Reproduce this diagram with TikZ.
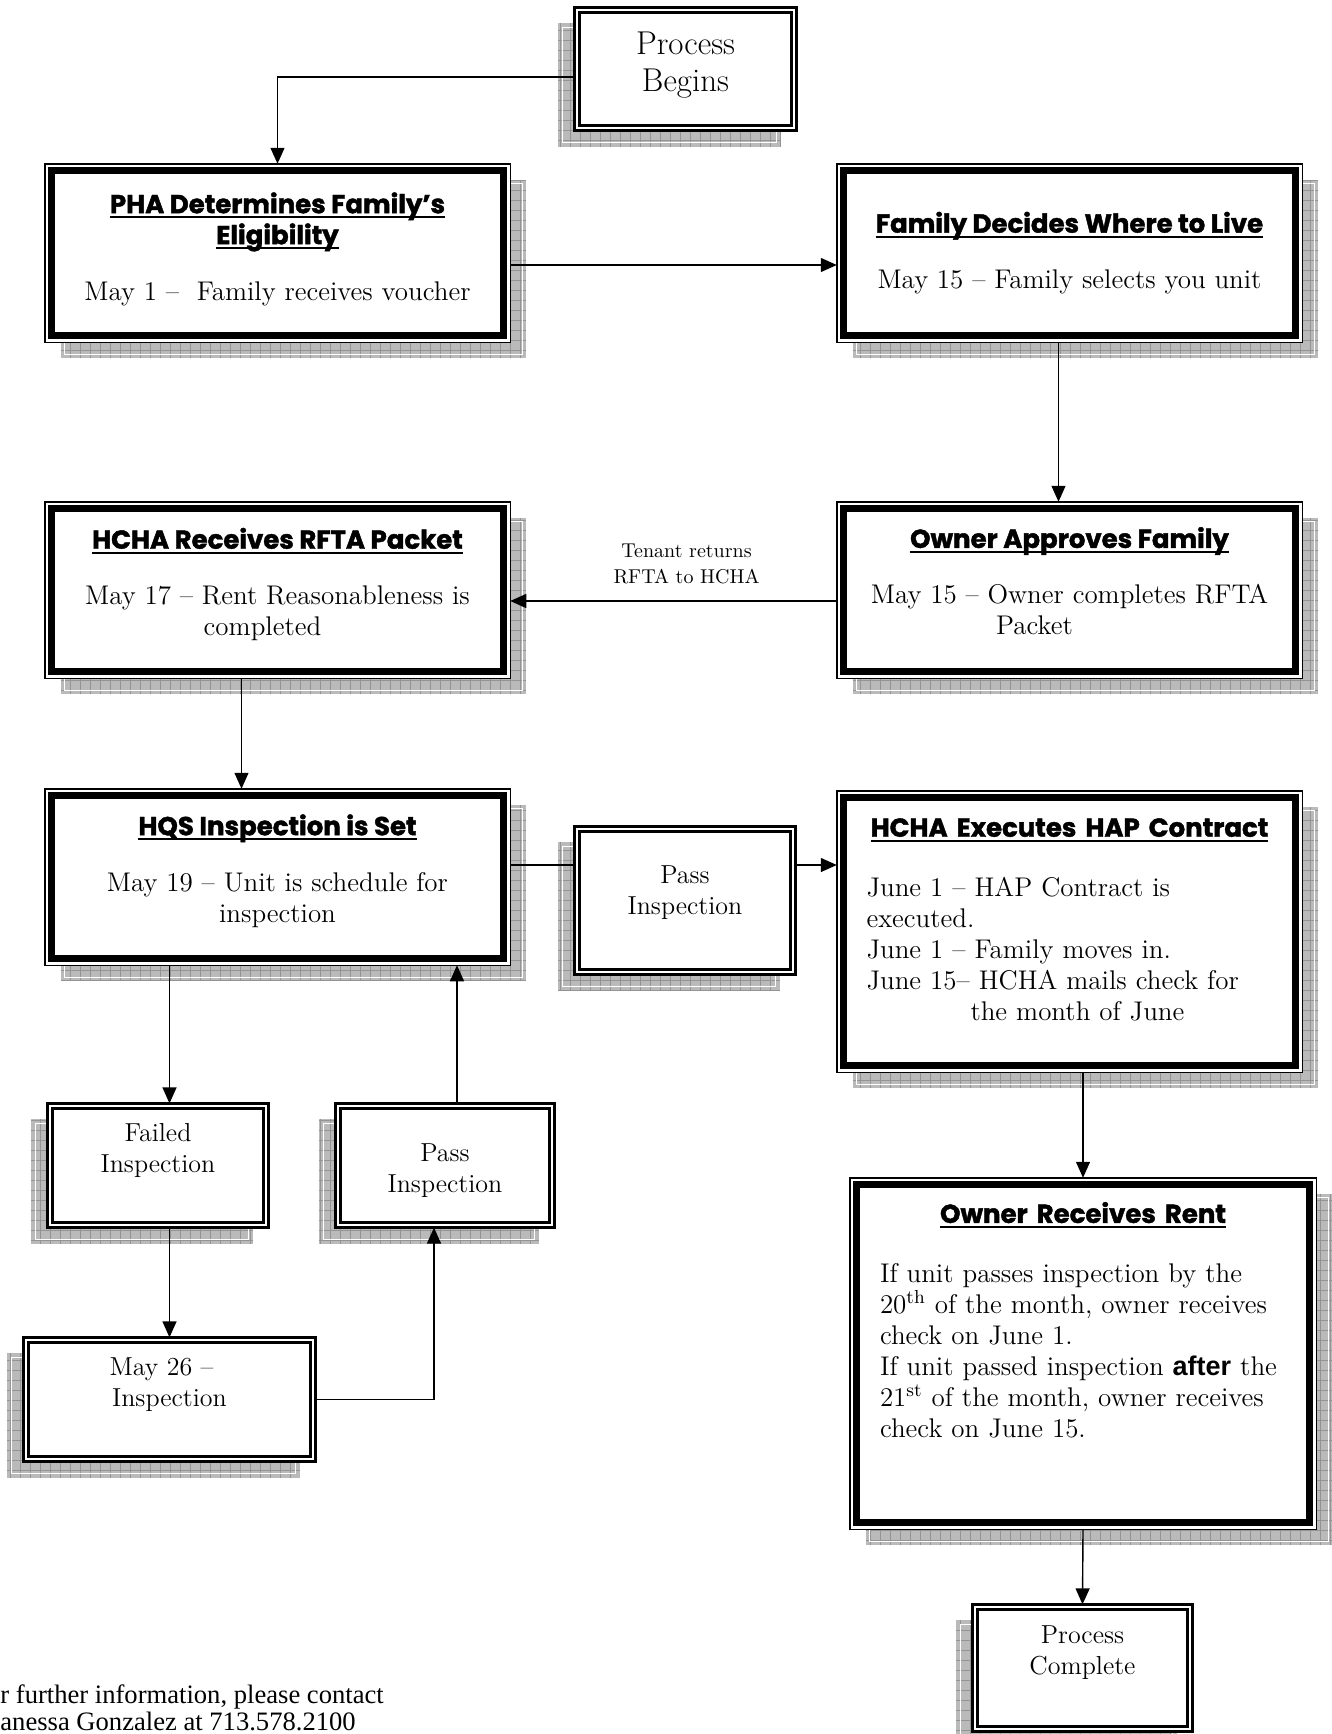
\documentclass[tikz,border=0pt]{standalone}
\usepackage{fontspec}
\newfontfamily\headfont{Poppins}[BoldFeatures={FakeBold=1.6}]
\newfontfamily\notefont{Liberation Serif}
\newfontfamily\plainsans{Liberation Sans}
\usetikzlibrary{arrows.meta,positioning,backgrounds}

\newsavebox{\hdbox}
\newcommand{\hdline}[1]{\leavevmode\sbox{\hdbox}{#1}\rlap{\rule[-2.6pt]{\wd\hdbox}{1pt}}\usebox{\hdbox}}
\newcommand{\hd}[1]{{\headfont\bfseries\fontsize{13}{16}\selectfont\hdline{#1}}}

\newcommand{\boxshadow}[2]{%
  \fill[shadowfill] ([shift={(#2,16)}]#1.south west) rectangle ([shift={(#2,16)}]#1.north east);
  \draw[shadowgrid] ([shift={(#2,16)}]#1.south west) grid ([shift={(#2,16)}]#1.north east);
  \draw[shadowedge] ([shift={(#2+4,12)}]#1.south west) rectangle ([shift={(#2-4,20)}]#1.north east);
}

\begin{document}
\begin{tikzpicture}[x=0.5pt,y=-0.5pt,>={Triangle[length=8pt,width=7pt]},
    bigbox/.style={draw,line width=0.75pt,fill=white,inner sep=0pt,outer sep=0pt,align=center,
      minimum width=232.75pt,font=\fontsize{13.5}{15.5}\selectfont,
      path picture={\draw[line width=3.3pt] ([shift={(7,-7)}]path picture bounding box.south west)
        rectangle ([shift={(-7,7)}]path picture bounding box.north east);}},
    smallbox/.style={draw,line width=1.35pt,fill=white,inner sep=0pt,outer sep=0pt,align=center,
      font=\fontsize{13}{15.5}\selectfont,
      path picture={\draw[line width=1.35pt] ([shift={(5,-5)}]path picture bounding box.south west)
        rectangle ([shift={(-5,5)}]path picture bounding box.north east);}},
    link/.style={line width=0.7pt},
    note/.style={align=center,inner sep=0pt,font=\fontsize{10}{13.3}\selectfont},
    shadowfill/.style={fill=black!27},
    shadowgrid/.style={draw=black!42,line width=0.3pt,step=5pt},
    shadowedge/.style={draw=white,line width=0.6pt}]

  \useasboundingbox (0,0) rectangle (1332,1734);

  \node[smallbox,minimum width=111.15pt,minimum height=61.65pt,font=\fontsize{16.5}{18.5}\selectfont] (begin) at (685.5,69) {Process\\Begins\\[-11.5pt]\mbox{}};

  \node[bigbox,minimum height=89.25pt] (pha) at (277.5,253) {\hd{PHA Determines Family’s}\\\hd{Eligibility}\\[12.5pt]May 1 –\ \ Family receives voucher\\[-8.8pt]\mbox{}};
  \node[bigbox,minimum height=89.25pt] (family) at (1069.5,253) {\hd{Family Decides Where to Live}\\[12.5pt]May 15 – Family selects you unit};

  \node[bigbox,minimum height=88.25pt] (hcharec) at (277.5,590) {\hd{HCHA Receives RFTA Packet}\\[12.5pt]May 17 – Rent Reasonableness is\\completed\hspace*{15pt}\mbox{}\\[-7.3pt]\mbox{}};
  \node[bigbox,minimum height=88.25pt] (owner) at (1069.5,590) {\hd{Owner Approves Family}\\[12.5pt]May 15 – Owner completes RFTA\\Packet\hspace*{35pt}\mbox{}\\[-6.5pt]\mbox{}};

  \node[bigbox,minimum height=88.25pt] (hqs) at (277.5,877) {\hd{HQS Inspection is Set}\\[12.5pt]May 19 – Unit is schedule for\\inspection\\[-6.8pt]\mbox{}};
  \node[smallbox,minimum width=110.65pt,minimum height=74.15pt] (passmid) at (685,900.5) {Pass\\Inspection\\[-5pt]\mbox{}};
  \node[bigbox,minimum height=140.75pt,align=left,text width=203pt] (hchaexec) at (1069.5,931.5) {\makebox[\linewidth]{\hd{HCHA Executes HAP Contract}}\\[14.5pt]June 1 – HAP Contract is\\executed.\\June 1 – Family moves in.\\June 15– HCHA mails check for\\\hspace*{52pt}the month of June\\[-3.5pt]\mbox{}};

  \node[smallbox,minimum width=110.65pt,minimum height=62.15pt] (failed) at (158,1165.5) {Failed\\Inspection\\[2pt]\mbox{}};
  \node[smallbox,minimum width=109.65pt,minimum height=62.15pt] (passlow) at (445,1165.5) {\mbox{}\\[-1.5pt]Pass\\Inspection};
  \node[smallbox,minimum width=146.15pt,minimum height=62.15pt] (may26) at (169.5,1399.5) {May 26 –\hspace*{8pt}\\Inspection\\[1.5pt]\mbox{}};

  \node[bigbox,minimum width=233.25pt,minimum height=175.75pt,align=left,text width=203pt] (ownerrent) at (1083,1353.5) {\makebox[\linewidth]{\hd{Owner Receives Rent}}\\[14.5pt]If unit passes inspection by the\\20\textsuperscript{th} of the month, owner receives\\check on June 1.\\If unit passed inspection {\plainsans\bfseries after} the\\21\textsuperscript{st} of the month, owner receives\\check on June 15.\\[18pt]\mbox{}};
  \node[smallbox,minimum width=110.15pt,minimum height=63.65pt] (complete) at (1082.5,1668) {Process\\Complete\\[2.6pt]\mbox{}};

  \node[anchor=north west,align=left,inner sep=0pt,font=\notefont\fontsize{13.3}{13.8}\selectfont] (contact) at (0,1684) {r further information, please contact\\anessa Gonzalez at 713.578.2100};

  \draw[link,->] ([yshift=-4pt]begin.west) -| (pha.north);
  \draw[link,->] ([yshift=-6pt]pha.east) -- ([yshift=-6pt]family.west);
  \draw[link,->] ([xshift=-5.5pt]family.south) -- ([xshift=-5.5pt]owner.north);
  \draw[link,->] ([yshift=-5.5pt]owner.west) -- node[note,above=8pt,pos=0.46] (tenant) {Tenant returns\\RFTA to HCHA} ([yshift=-5.5pt]hcharec.east);
  \draw[link,->] ([xshift=-18pt]hcharec.south) -- ([xshift=-18pt]hqs.north);
  \draw[link] ([yshift=6pt]hqs.east) -- ([yshift=6pt]hqs.east -| passmid.west);
  \draw[link,->] ([yshift=6pt]hqs.east -| passmid.east) -- ([yshift=6pt]hqs.east -| hchaexec.west);
  \draw[link,->] (may26.north |- hqs.south) -- (may26.north |- failed.north);
  \draw[link,->] (may26.north |- failed.south) -- (may26.north);
  \draw[link,->] (may26.east) -| ([xshift=-5.5pt]passlow.south);
  \draw[link,->] ([xshift=6pt]passlow.north) -- ([xshift=6pt]passlow.north |- hqs.south);
  \draw[link,->] (ownerrent.north |- hchaexec.south) -- (ownerrent.north);
  \draw[link,->] (ownerrent.south) -- (complete.north);

  \begin{scope}[on background layer]
    \foreach \n in {pha,family,hcharec,owner,hqs,hchaexec,ownerrent}
      {\boxshadow{\n}{16}}
    \foreach \n in {begin,passmid,failed,passlow,may26,complete}
      {\boxshadow{\n}{-16}}
  \end{scope}
\end{tikzpicture}
\end{document}
